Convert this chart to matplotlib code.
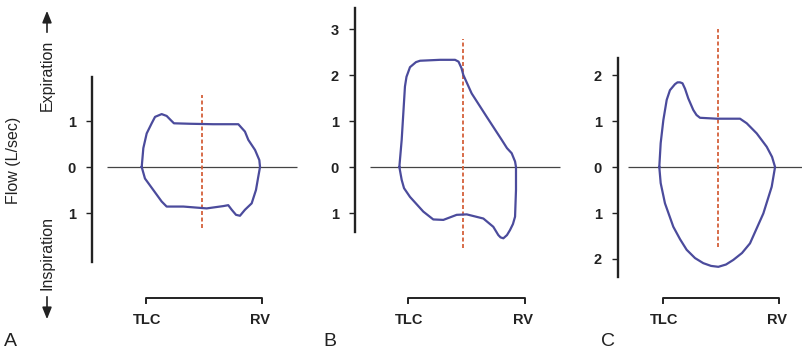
import matplotlib.pyplot as plt
from matplotlib.patches import FancyArrowPatch

plt.rcParams["font.family"] = ["Liberation Sans", "DejaVu Sans"]

# volume axis: 0 = TLC, 100 = RV ; flow in L/sec (expiration positive)
vol_a = [-3.7, -2.3, 0.6, 4.9, 7.8, 13.5, 17.8, 21.3, 24.1, 37.9, 58.0, 79.6,
         85.3, 88.2, 94.0, 97.7, 98.3, 96.8, 94.8, 91.1, 85.3, 81.0, 77.6,
         73.9, 70.9, 66.6, 52.3, 32.2, 17.8, 13.5, 6.3, -0.9, -3.7]
flow_a = [0.0, 0.41, 0.73, 0.95, 1.09, 1.15, 1.11, 1.02, 0.95, 0.94, 0.93, 0.93,
          0.77, 0.59, 0.37, 0.15, 0.0, -0.21, -0.50, -0.79, -0.93, -1.06, -1.04,
          -0.93, -0.83, -0.85, -0.90, -0.86, -0.86, -0.75, -0.50, -0.25, 0.0]

vol_b = [-7.4, -5.4, -4.0, -2.6, -1.3, 1.7, 6.8, 10.3, 27.4, 40.2, 43.2, 45.7,
         47.3, 54.4, 67.3, 80.1, 84.6, 88.6, 91.5, 92.3, 92.3, 91.5, 89.7, 87.2,
         84.6, 81.5, 79.1, 77.2, 72.9, 64.4, 50.2, 41.6, 30.2, 21.6, 13.1, 1.7,
         -3.4, -5.4, -7.4]
flow_b = [0.0, 0.59, 1.17, 1.75, 1.96, 2.17, 2.28, 2.31, 2.33, 2.33, 2.29, 2.15,
          2.0, 1.60, 1.09, 0.59, 0.41, 0.30, 0.12, 0.0, -0.50, -1.08, -1.24, -1.37,
          -1.48, -1.55, -1.53, -1.48, -1.30, -1.12, -1.03, -1.04, -1.15, -1.14,
          -0.97, -0.65, -0.46, -0.28, 0.0]

vol_c = [-3.2, -2.0, 0.3, 3.2, 6.0, 10.3, 12.5, 14.7, 16.8, 19.0, 21.8, 26.1,
         28.9, 31.9, 46.3, 66.4, 72.2, 80.8, 89.4, 94.0, 96.6, 93.7, 86.5, 75.0,
         68.1, 60.6, 54.3, 47.7, 41.4, 34.7, 27.6, 20.4, 14.7, 8.9, 1.7, -2.0,
         -3.2]
flow_c = [0.0, 0.52, 1.02, 1.46, 1.67, 1.80, 1.84, 1.84, 1.82, 1.70, 1.49, 1.24,
          1.13, 1.07, 1.05, 1.05, 0.95, 0.73, 0.44, 0.22, 0.0, -0.43, -1.01, -1.66,
          -1.87, -2.02, -2.12, -2.17, -2.15, -2.09, -1.98, -1.80, -1.57, -1.30,
          -0.79, -0.35, 0.0]

# dashed marker: volume position and flow extent
dash_a = (48.3, -1.33, 1.57)
dash_b = (47.0, -1.76, 2.78)
dash_c = (47.4, -1.74, 3.0)

ticks_a = [-1, 0, 1]
labels_a = ["1", "0", "1"]
ticks_b = [-1, 0, 1, 2, 3]
labels_b = ["1", "0", "1", "2", "3"]
ticks_c = [-2, -1, 0, 1, 2]
labels_c = ["2", "1", "0", "1", "2"]

W, H = 802, 356
ZERO_PY = 167
PX_PER_FLOW = 46
LOOP_COLOR = "#4b4b9c"
DASH_COLOR = "#d4603a"
INK = "#222222"

fig = plt.figure(figsize=(W / 100, H / 100), dpi=100)


def panel(left, right, tlc_px, rv_px, spine_px, spine_top, spine_bot,
          zero_from, zero_to, vol, flow, dash, ticks, labels, letter, letter_px):
    ax = fig.add_axes([left / W, 0, (right - left) / W, 1])
    sx = (rv_px - tlc_px) / 100.0

    def vx(px):
        return (px - tlc_px) / sx

    def fy(py):
        return (ZERO_PY - py) / PX_PER_FLOW

    ax.set_xlim(vx(left), vx(right))
    ax.set_ylim(fy(H), fy(0))
    ax.patch.set_alpha(0)
    for s in ("top", "right", "bottom"):
        ax.spines[s].set_visible(False)
    ax.spines["left"].set_position(("data", vx(spine_px)))
    ax.spines["left"].set_bounds(fy(spine_bot), fy(spine_top))
    ax.spines["left"].set_linewidth(1.7)
    ax.spines["left"].set_color(INK)
    ax.set_xticks([])
    ax.set_yticks(ticks)
    ax.set_yticklabels(labels, fontweight="bold")
    ax.tick_params(axis="y", direction="out", length=4.5, width=1.0,
                   color=INK, pad=7, labelsize=10.5, labelcolor=INK)

    ax.hlines(0, vx(zero_from), vx(zero_to), color="#444444", lw=0.9)
    ax.vlines(dash[0], dash[1], dash[2], color=DASH_COLOR, lw=1.3,
              linestyles=(0, (2.2, 1.4)))
    ax.plot(vol, flow, color=LOOP_COLOR, lw=1.6, solid_joinstyle="round")

    yb = fy(297.5)
    tick = 5 / PX_PER_FLOW
    ax.plot([0, 0, 100, 100], [yb - tick, yb, yb, yb - tick], color=INK, lw=1.4)
    ax.text(vx(tlc_px + 1), fy(320), "TLC", ha="center", va="center",
            fontsize=10.5, fontweight="bold", color=INK)
    ax.text(vx(rv_px - 2), fy(320), "RV", ha="center", va="center",
            fontsize=10.5, fontweight="bold", color=INK)
    fig.text(letter_px / W, 1 - 341 / H, letter, ha="left", va="center",
             fontsize=14, color=INK)
    return ax


panel(60, 300, 146, 262, 92, 77, 262, 107, 297, vol_a, flow_a, dash_a,
      ticks_a, labels_a, "A", 4)
panel(300, 565, 408, 525, 355, 8, 232, 370, 560, vol_b, flow_b, dash_b,
      ticks_b, labels_b, "B", 323)
panel(565, 802, 663, 779, 618, 58, 277, 628, 802, vol_c, flow_c, dash_c,
      ticks_c, labels_c, "C", 601)

# left-hand labels
fig.text(14 / W, 1 - 160 / H, "Flow (L/sec)", rotation=90, ha="center",
         va="center", fontsize=11.5, color=INK)
fig.text(47 / W, 1 - 75 / H, "Expiration", rotation=90, ha="center",
         va="center", fontsize=11.5, color=INK)
fig.text(47 / W, 1 - 253 / H, "Inspiration", rotation=90, ha="center",
         va="center", fontsize=11.5, color=INK)
arrow = dict(arrowstyle="-|>,head_length=0.5,head_width=0.2", color=INK, lw=1.2)
fig.add_artist(FancyArrowPatch((47 / W, 1 - 35 / H), (47 / W, 1 - 8 / H),
                               transform=fig.transFigure, mutation_scale=14,
                               **arrow))
fig.add_artist(FancyArrowPatch((47 / W, 1 - 294 / H), (47 / W, 1 - 322 / H),
                               transform=fig.transFigure, mutation_scale=14,
                               **arrow))

fig.savefig("out.png", dpi=100)
